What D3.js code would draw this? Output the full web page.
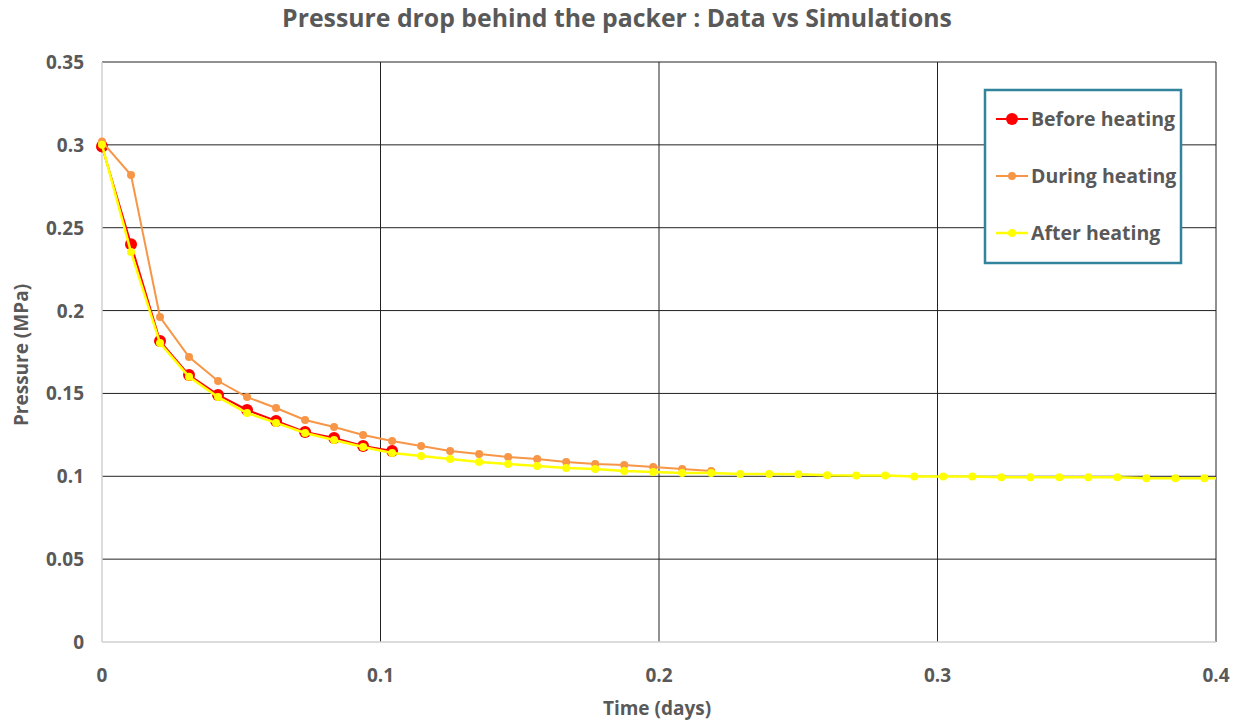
<!DOCTYPE html>
<html lang="en">
<head>
<meta charset="UTF-8">
<title>Pressure drop behind the packer</title>
<script src="https://d3js.org/d3.v7.min.js"></script>
<style>
    body { margin: 0; background: white; }
    text { font-family: "Open Sans", sans-serif; font-weight: bold; fill: #595959; }
</style>
</head>
<body>
<svg id="canvas" width="1247" height="721"></svg>
<script>
    // time step between samples (days)
    let step = 0.0104167;

    let beforeHeating = [0.299, 0.240, 0.1816, 0.1611, 0.1491, 0.1400, 0.1334, 0.1267, 0.1231, 0.1183, 0.1153];
    let duringHeating = [0.302, 0.2818, 0.1961, 0.1720, 0.1575, 0.1478, 0.1412, 0.1340, 0.1297, 0.1249, 0.1213,
        0.1183, 0.1153, 0.1134, 0.1116, 0.1104, 0.1086, 0.1074, 0.1068, 0.1056, 0.1044, 0.1032];
    let afterHeating = [0.300, 0.2353, 0.1804, 0.1600, 0.1478, 0.1382, 0.1322, 0.1261, 0.1219, 0.1177, 0.1141,
        0.1122, 0.1104, 0.1086, 0.1074, 0.1062, 0.1050, 0.1044, 0.1032, 0.1026, 0.1020, 0.1020, 0.1014, 0.1014,
        0.1012, 0.1006, 0.1004, 0.1004, 0.0998, 0.0998, 0.0998, 0.0994, 0.0994, 0.0994, 0.0994, 0.0994, 0.0988,
        0.0988, 0.0988, 0.0988];

    let xTicks = [0, 0.1, 0.2, 0.3, 0.4];
    let yTicks = [0, 0.05, 0.1, 0.15, 0.2, 0.25, 0.3, 0.35];

    let series = [
        {name: "Before heating", values: beforeHeating, color: "#ff0000", r: 6, w: 2},
        {name: "During heating", values: duringHeating, color: "#f79646", r: 4, w: 2},
        {name: "After heating", values: afterHeating, color: "#ffff00", r: 4, w: 2.5}
    ];

    let svg = d3.select('svg');
    let x = d3.scaleLinear().domain([0, 0.4]).range([102, 1216]);
    let y = d3.scaleLinear().domain([0, 0.35]).range([642, 62]);

    // title
    svg.append('text').attr('x', 617).attr('y', 27).attr('text-anchor', 'middle')
        .style('font-size', '24.8px').text('Pressure drop behind the packer : Data vs Simulations');

    // gridlines
    svg.append('g').selectAll('line').data(yTicks.slice(1)).enter().append('line')
        .attr('x1', x(0)).attr('x2', x(0.4)).attr('y1', d => y(d)).attr('y2', d => y(d))
        .attr('stroke', '#222').attr('stroke-width', 1);
    svg.append('g').selectAll('line').data(xTicks.slice(1)).enter().append('line')
        .attr('y1', y(0)).attr('y2', y(0.35)).attr('x1', d => x(d)).attr('x2', d => x(d))
        .attr('stroke', '#222').attr('stroke-width', 1);

    // axes lines (light gray)
    svg.append('line').attr('x1', x(0)).attr('x2', x(0.4)).attr('y1', y(0)).attr('y2', y(0))
        .attr('stroke', '#d0d0d0').attr('stroke-width', 1.5);
    svg.append('line').attr('x1', x(0)).attr('x2', x(0)).attr('y1', y(0)).attr('y2', y(0.35))
        .attr('stroke', '#d0d0d0').attr('stroke-width', 1.5);

    // tick labels
    svg.append('g').selectAll('text').data(yTicks).enter().append('text')
        .attr('x', 84).attr('y', d => y(d) + 7).attr('text-anchor', 'end')
        .style('font-size', '19px').text(d => d3.format('')(d));
    svg.append('g').selectAll('text').data(xTicks).enter().append('text')
        .attr('x', d => x(d)).attr('y', 682).attr('text-anchor', 'middle')
        .style('font-size', '19px').text(d => d3.format('')(d));

    // axis titles
    svg.append('text').attr('x', 657).attr('y', 715).attr('text-anchor', 'middle')
        .style('font-size', '19px').text('Time (days)');
    svg.append('text').attr('transform', 'translate(28,355) rotate(-90)').attr('text-anchor', 'middle')
        .style('font-size', '19px').text('Pressure (MPa)');

    // clip
    svg.append('clipPath').attr('id', 'plotClip').append('rect')
        .attr('x', x(0) - 8).attr('y', y(0.35) - 8).attr('width', x(0.4) - x(0) + 8).attr('height', y(0) - y(0.35) + 16);

    let line = d3.line().x((d, i) => x(i * step)).y(d => y(d));
    let plot = svg.append('g').attr('clip-path', 'url(#plotClip)');

    series.forEach(function (s) {
        let g = plot.append('g');
        g.append('path').datum(s.values).attr('d', line)
            .attr('fill', 'none').attr('stroke', s.color).attr('stroke-width', s.w);
        g.selectAll('circle').data(s.values).enter().append('circle')
            .attr('cx', (d, i) => x(i * step)).attr('cy', d => y(d)).attr('r', s.r)
            .attr('fill', s.color);
    });

    // legend
    let legend = svg.append('g');
    legend.append('rect').attr('x', 985).attr('y', 90).attr('width', 196).attr('height', 173)
        .attr('fill', 'white').attr('stroke', '#31849b').attr('stroke-width', 2.5);
    series.forEach(function (s, i) {
        let ly = 119 + i * 57;
        legend.append('line').attr('x1', 996).attr('x2', 1028).attr('y1', ly).attr('y2', ly)
            .attr('stroke', s.color).attr('stroke-width', s.w);
        legend.append('circle').attr('cx', 1012).attr('cy', ly).attr('r', s.r).attr('fill', s.color);
        legend.append('text').attr('x', 1031).attr('y', ly + 7).style('font-size', '19.5px').text(s.name);
    });
</script>
</body>
</html>
